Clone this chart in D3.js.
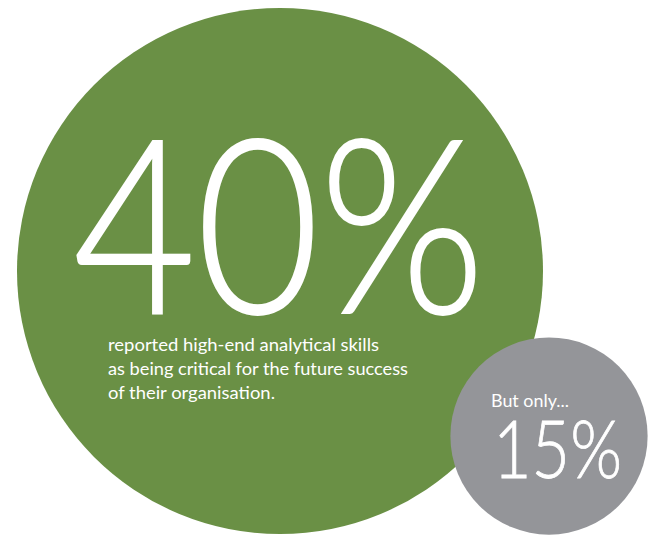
<!DOCTYPE html>
<html><head><meta charset="utf-8">
<script src="https://cdn.jsdelivr.net/npm/d3@7"></script>
<style>
  body { margin: 0; background: #ffffff; }
  svg text { font-family: 'Lato', 'Open Sans', sans-serif; fill: #ffffff; }
</style></head>
<body><svg id="chart" width="650" height="535"></svg>
<script>
// Survey figures shown as bubbles (radius proportional to value)
const labels = ["critical", "only"];
const values = [40, 15];
const colors = ["#6a9045", "#949599"];
const headlines = ["40%", "15%"];
const captions = [
  ["reported high-end analytical skills",
   "as being critical for the future success",
   "of their organisation."],
  ["But only..."]
];

const svg = d3.select("#chart");

// radius grows linearly with the percentage
const r = d3.scaleLinear().domain([0, 40]).range([0, 263]);

// bubble centres
const centres = d3.scaleOrdinal().domain(labels).range([[280, 271], [549, 436]]);

const g = svg.selectAll("g.bubble")
  .data(labels.map((d, i) => ({ key: d, value: values[i], color: colors[i], head: headlines[i], cap: captions[i] })))
  .join("g")
  .attr("class", "bubble");

g.append("circle")
  .attr("cx", d => centres(d.key)[0])
  .attr("cy", d => centres(d.key)[1])
  .attr("r", d => r(d.value))
  .attr("fill", d => d.color);

// big green figure and its explanation
const big = g.filter(d => d.key === "critical");
big.append("text")
  .attr("x", 73).attr("y", 313)
  .attr("textLength", 412).attr("lengthAdjust", "spacingAndGlyphs")
  .style("font-size", "243px").style("font-weight", 300)
  .style("stroke", "#ffffff").style("stroke-width", 2)
  .text(d => d.head);
big.selectAll("text.cap")
  .data(d => d.cap)
  .join("text")
  .attr("class", "cap")
  .attr("x", 108).attr("y", (d, i) => 351 + i * 24)
  .attr("textLength", (d, i) => [271, 300, 167][i]).attr("lengthAdjust", "spacingAndGlyphs")
  .style("font-size", "18px").style("font-weight", 400)
  .text(d => d);

// small grey figure
const small = g.filter(d => d.key === "only");
small.append("text")
  .attr("x", 491).attr("y", 407)
  .attr("textLength", 78).attr("lengthAdjust", "spacingAndGlyphs")
  .style("font-size", "17px").style("font-weight", 400)
  .text(d => d.cap[0]);
small.append("text")
  .attr("x", 493).attr("y", 478)
  .attr("textLength", 129).attr("lengthAdjust", "spacingAndGlyphs")
  .style("font-size", "80px").style("font-weight", 300)
  .style("stroke", "#ffffff").style("stroke-width", 0.8)
  .text(d => d.head);
</script></body></html>
